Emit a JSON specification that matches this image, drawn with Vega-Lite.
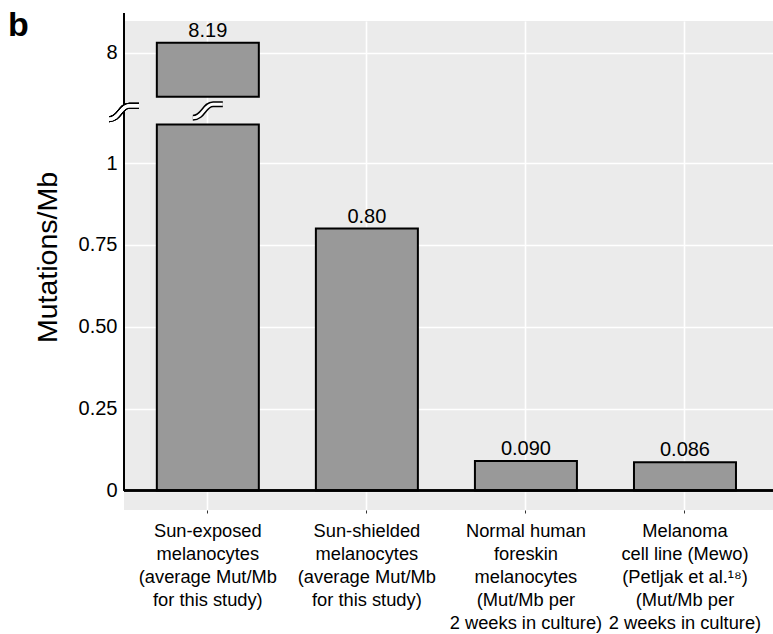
{
  "$schema": "https://vega.github.io/schema/vega-lite/v6.json",
  "width": 649,
  "height": 489,
  "autosize": {"type": "none"},
  "padding": {"left": 124, "top": 21, "right": 0, "bottom": 124},
  "background": "white",
  "title": {"text": "b", "fontSize": 34, "fontWeight": "bold", "anchor": "start", "frame": "group", "dx": -116, "dy": 31, "color": "black", "offset": 0},
  "data": {"values": [
    {"category": "Sun-exposed|melanocytes|(average Mut/Mb|for this study)", "value": 8.19, "label": "8.19"},
    {"category": "Sun-shielded|melanocytes|(average Mut/Mb|for this study)", "value": 0.80, "label": "0.80"},
    {"category": "Normal human|foreskin|melanocytes|(Mut/Mb per|2 weeks in culture)", "value": 0.090, "label": "0.090"},
    {"category": "Melanoma|cell line (Mewo)|(Petljak et al.¹⁸)|(Mut/Mb per|2 weeks in culture)", "value": 0.086, "label": "0.086"}
  ]},
  "config": {
    "font": "Liberation Sans",
    "view": {"fill": "#ebebeb", "stroke": null}
  },
  "resolve": {"scale": {"x": "independent"}},
  "layer": [
    {
      "encoding": {
        "x": {
          "field": "category", "type": "nominal", "sort": null,
          "scale": {
            "domain": [
              "Sun-exposed|melanocytes|(average Mut/Mb|for this study)",
              "Sun-shielded|melanocytes|(average Mut/Mb|for this study)",
              "Normal human|foreskin|melanocytes|(Mut/Mb per|2 weeks in culture)",
              "Melanoma|cell line (Mewo)|(Petljak et al.¹⁸)|(Mut/Mb per|2 weeks in culture)"
            ],
            "paddingInner": 0.3587, "paddingOuter": 0.2196, "align": 0.47
          },
          "axis": {
            "title": null, "labelExpr": "split(datum.value, '|')", "labelAngle": 0,
            "labelFontSize": 18.3, "labelLineHeight": 23, "labelPadding": 9, "labelColor": "black",
            "labelOverlap": false, "labelLimit": 0, "labelBaseline": "top",
            "domain": false, "ticks": true, "tickSize": 3, "tickColor": "#333333", "tickWidth": 1,
            "grid": true, "gridColor": "white", "gridWidth": 1.6
          }
        }
      },
      "layer": [
        {
          "transform": [{"filter": "datum.value < 2"}],
          "mark": {"type": "bar", "fill": "#999999", "stroke": "black", "strokeWidth": 2},
          "encoding": {
            "y": {
              "field": "value", "type": "quantitative",
              "scale": {"domain": [-0.0595, 1.118, 7.163, 8.603], "range": [489, 103.4, 75.7, 0], "nice": false, "zero": false},
              "axis": {
                "title": "Mutations/Mb", "values": [0, 0.25, 0.5, 0.75, 1, 8],
                "labelExpr": "datum.value == 0.5 ? '0.50' : toString(datum.value)",
                "domain": false, "ticks": false, "labelPadding": 7, "labelFontSize": 20, "labelColor": "black",
                "grid": true, "gridColor": "white", "gridWidth": 1.6,
                "titleFontSize": 28.5, "titleFontWeight": "normal", "titleColor": "black", "titlePadding": 16, "titleY": 236
              }
            },
            "y2": {"datum": 0}
          }
        },
        {
          "transform": [{"filter": "datum.value > 2"}],
          "mark": {"type": "bar", "fill": "#999999", "stroke": "black", "strokeWidth": 2},
          "encoding": {
            "y": {"datum": 1.118, "type": "quantitative"},
            "y2": {"datum": 0}
          }
        },
        {
          "transform": [{"filter": "datum.value > 2"}],
          "mark": {"type": "bar", "fill": "#999999", "stroke": "black", "strokeWidth": 2},
          "encoding": {
            "y": {"field": "value", "type": "quantitative"},
            "y2": {"datum": 7.163}
          }
        },
        {
          "transform": [{"filter": "datum.value > 2"}],
          "mark": {"type": "point", "shape": "M -1 0.48 C -0.3 0.48 -0.25 -0.42 0.35 -0.42 L 1 -0.42", "filled": false, "stroke": "black", "strokeWidth": 6, "strokeCap": "butt", "size": 900, "opacity": 1},
          "encoding": {"y": {"datum": 4.15, "type": "quantitative"}}
        },
        {
          "transform": [{"filter": "datum.value > 2"}],
          "mark": {"type": "point", "shape": "M -1 0.48 C -0.3 0.48 -0.25 -0.42 0.35 -0.42 L 1 -0.42", "filled": false, "stroke": "white", "strokeWidth": 3, "strokeCap": "butt", "size": 900, "opacity": 1},
          "encoding": {"y": {"datum": 4.15, "type": "quantitative"}}
        },
        {
          "mark": {"type": "text", "fontSize": 20, "baseline": "alphabetic", "dy": -6, "color": "black"},
          "encoding": {
            "y": {"field": "value", "type": "quantitative"},
            "text": {"field": "label", "type": "nominal"}
          }
        }
      ]
    },
    {
      "layer": [
        {
          "mark": {"type": "rule", "color": "black", "strokeWidth": 2},
          "encoding": {"y": {"datum": 0, "type": "quantitative"}}
        },
        {
          "mark": {"type": "rule", "color": "black", "strokeWidth": 2},
          "encoding": {
            "x": {"datum": 0, "type": "quantitative", "scale": {"domain": [0, 1]}, "axis": null},
            "y": {"datum": 0, "type": "quantitative"},
            "y2": {"datum": 8.75}
          }
        },
        {
          "mark": {"type": "point", "shape": "M -1 0.48 C -0.3 0.48 -0.25 -0.42 0.35 -0.42 L 1 -0.42", "filled": false, "stroke": "black", "strokeWidth": 6, "strokeCap": "butt", "size": 900, "opacity": 1},
          "encoding": {
            "x": {"datum": 0, "type": "quantitative"},
            "y": {"datum": 3.82, "type": "quantitative"}
          }
        },
        {
          "mark": {"type": "point", "shape": "M -1 0.48 C -0.3 0.48 -0.25 -0.42 0.35 -0.42 L 1 -0.42", "filled": false, "stroke": "white", "strokeWidth": 3, "strokeCap": "butt", "size": 900, "opacity": 1},
          "encoding": {
            "x": {"datum": 0, "type": "quantitative"},
            "y": {"datum": 3.82, "type": "quantitative"}
          }
        }
      ]
    }
  ]
}
